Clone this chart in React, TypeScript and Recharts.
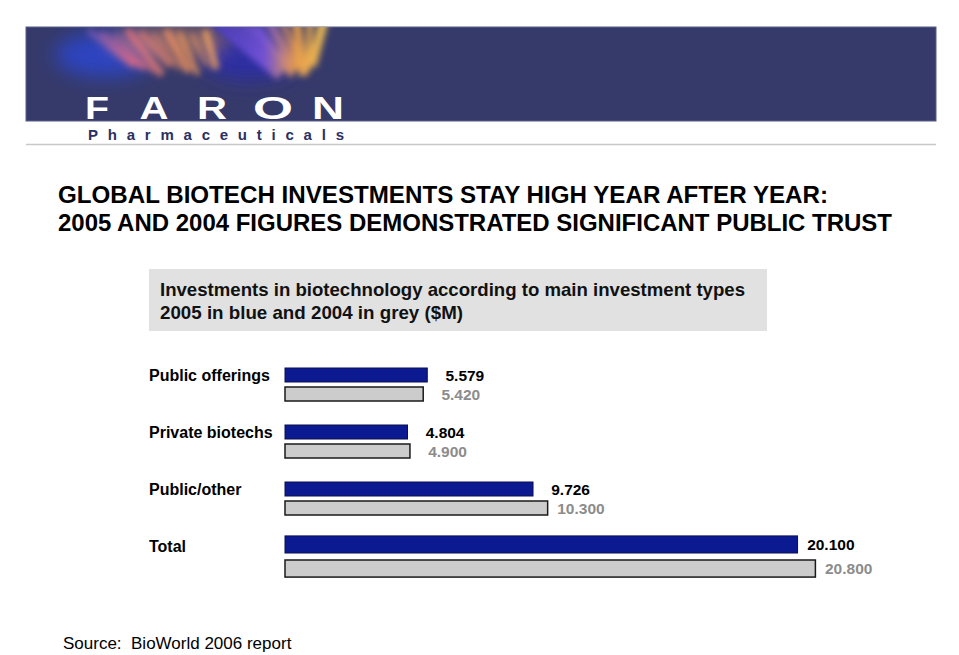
import { BarChart, Bar, XAxis, YAxis, LabelList } from "recharts";

// Investment types, $M (values as printed on the slide)
const categories = ["Public offerings", "Private biotechs", "Public/other", "Total"];
const values2005 = [5.579, 4.804, 9.726, 20.1];
const values2004 = [5.42, 4.9, 10.3, 20.8];

const titleLines = [
  "GLOBAL BIOTECH INVESTMENTS STAY HIGH YEAR AFTER YEAR:",
  "2005 AND 2004 FIGURES DEMONSTRATED SIGNIFICANT PUBLIC TRUST",
];
const boxLines = [
  "Investments in biotechnology according to main investment types",
  "2005 in blue and 2004 in grey ($M)",
];

const FONT = '"Liberation Sans", Arial, Helvetica, sans-serif';
const BLUE = "#0c1a92";
const GREY = "#cccccc";
const GREY_TEXT = "#8c8c8c";

const chartData = categories.map((name, i) => ({
  name,
  y2005: values2005[i],
  y2004: values2004[i],
}));

function CategoryTick(props: any) {
  const { y, payload } = props;
  // label sits level with the 2005 bar, flush left in the chart svg
  return (
    <text
      x={0}
      y={y - 9.5}
      dominantBaseline="central"
      textAnchor="start"
      fontFamily={FONT}
      fontWeight="bold"
      fontSize={16}
      fill="#000"
    >
      {payload.value}
    </text>
  );
}

// the Total row is drawn a little heavier on the slide
function rowBar(fill: string, stroke: string, sw: number, upper: boolean) {
  return (props: any) => {
    const { x, y, width, height, index } = props;
    let yy = y;
    let hh = height;
    if (index === categories.length - 1) {
      hh = height * 1.22;
      yy = upper ? y - (hh - height) : y + 2;
    }
    return <rect x={x} y={yy} width={width} height={hh} fill={fill} stroke={stroke} strokeWidth={sw} />;
  };
}

function valueLabel(color: string, weight: string, upper: boolean) {
  return (props: any) => {
    const { x, y, width, height, value, index } = props;
    let cy = y + height / 2;
    if (index === categories.length - 1) cy += upper ? -1.5 : 3.5;
    return (
      <text
        x={x + width + 57}
        y={cy}
        dominantBaseline="central"
        textAnchor="end"
        fontFamily={FONT}
        fontWeight={weight}
        fontSize={15.5}
        fill={color}
      >
        {value.toFixed(3)}
      </text>
    );
  };
}

// logo letters: centre x of each glyph and its stretched width
const LOGO = [
  { ch: "F", cx: 97, w: 24 },
  { ch: "A", cx: 154, w: 29 },
  { ch: "R", cx: 212, w: 30 },
  { ch: "O", cx: 273, w: 40 },
  { ch: "N", cx: 328, w: 32 },
];

function Header() {
  const leftStreaks = [0, 1, 2, 3, 4, 5, 6, 7, 8, 9];
  const fan = [0, 1, 2, 3, 4, 5, 6, 7, 8];
  return (
    <svg width={959} height={160} style={{ position: "absolute", left: 0, top: 0 }}>
      <defs>
        <clipPath id="band">
          <rect x={26} y={27} width={910} height={94} />
        </clipPath>
        <filter id="soft" x="-30%" y="-60%" width="160%" height="220%">
          <feGaussianBlur stdDeviation="3" />
        </filter>
        <filter id="glow" x="-50%" y="-80%" width="200%" height="260%">
          <feGaussianBlur stdDeviation="10" />
        </filter>
        <linearGradient id="streakA" gradientUnits="userSpaceOnUse" x1="80" y1="75" x2="230" y2="30">
          <stop offset="0" stopColor="#3a55e0" stopOpacity="0.6" />
          <stop offset="0.35" stopColor="#e26a80" />
          <stop offset="0.7" stopColor="#f29a5a" />
          <stop offset="1" stopColor="#f6b060" />
        </linearGradient>
        <linearGradient id="streakB" gradientUnits="userSpaceOnUse" x1="215" y1="27" x2="325" y2="27">
          <stop offset="0" stopColor="#4a3cc8" />
          <stop offset="0.45" stopColor="#7a56d8" />
          <stop offset="0.72" stopColor="#f0a04a" />
          <stop offset="1" stopColor="#fac850" />
        </linearGradient>
      </defs>
      <rect x={26} y={27} width={910} height={94} fill="#363a6a" stroke="#5a5e88" strokeWidth={1} />
      <g clipPath="url(#band)">
        <ellipse cx={105} cy={55} rx={50} ry={22} fill="#2c46d8" opacity={0.8} filter="url(#glow)" />
        <ellipse cx={250} cy={58} rx={50} ry={22} fill="#2a2ab8" opacity={0.75} filter="url(#glow)" />
        <ellipse cx={170} cy={42} rx={60} ry={14} fill="#f09a66" opacity={0.5} filter="url(#glow)" />
        <g filter="url(#soft)">
          {leftStreaks.map((k) => (
            <line
              key={`a${k}`}
              x1={88 + k * 13}
              y1={30 + (k % 3) * 2}
              x2={135 + k * 9}
              y2={66 + (k % 4) * 3}
              stroke="url(#streakA)"
              strokeWidth={7 - (k % 3) * 2}
              opacity={0.85}
            />
          ))}
          {fan.map((k) => (
            <line
              key={`b${k}`}
              x1={212 + k * 14}
              y1={20}
              x2={280 + k * 4}
              y2={76 - (k % 3) * 5}
              stroke="url(#streakB)"
              strokeWidth={9 - (k % 2) * 3}
              opacity={0.9}
            />
          ))}
        </g>
      </g>
      {LOGO.map((l) => (
        <text
          key={l.ch}
          x={l.cx}
          y={119}
          textAnchor="middle"
          textLength={l.w}
          lengthAdjust="spacingAndGlyphs"
          fontFamily={FONT}
          fontWeight="bold"
          fontSize={31}
          fill="#ffffff"
        >
          {l.ch}
        </text>
      ))}
      <text
        x={88}
        y={139.5}
        textLength={256}
        lengthAdjust="spacing"
        fontFamily={FONT}
        fontWeight="bold"
        fontSize={15}
        fill="#2c2f63"
      >
        Pharmaceuticals
      </text>
      <line x1={26} y1={144.5} x2={936} y2={144.5} stroke="#c8c8c8" strokeWidth={1.5} />
    </svg>
  );
}

function TextBlock() {
  return (
    <svg width={959} height={345} style={{ position: "absolute", left: 0, top: 0 }}>
      <text x={58} y={203} textLength={770} lengthAdjust="spacingAndGlyphs" fontFamily={FONT} fontWeight="bold" fontSize={23} fill="#000">
        {titleLines[0]}
      </text>
      <text x={58} y={231} textLength={834} lengthAdjust="spacingAndGlyphs" fontFamily={FONT} fontWeight="bold" fontSize={23} fill="#000">
        {titleLines[1]}
      </text>
      <rect x={149} y={269} width={618} height={62} fill="#e1e1e1" />
      <text x={160} y={296} textLength={585} lengthAdjust="spacingAndGlyphs" fontFamily={FONT} fontWeight="bold" fontSize={18.5} fill="#111">
        {boxLines[0]}
      </text>
      <text x={160} y={318.5} textLength={303} lengthAdjust="spacingAndGlyphs" fontFamily={FONT} fontWeight="bold" fontSize={18.5} fill="#111">
        {boxLines[1]}
      </text>
    </svg>
  );
}

export default function App() {
  return (
    <div
      style={{
        position: "absolute",
        left: 0,
        top: 0,
        width: 959,
        height: 655,
        background: "#ffffff",
        fontFamily: FONT,
        overflow: "hidden",
      }}
    >
      <Header />
      <TextBlock />

      <div style={{ position: "absolute", left: 149, top: 346 }}>
        <BarChart
          width={760}
          height={248}
          data={chartData}
          layout="vertical"
          margin={{ top: 10, right: 12, bottom: 10, left: 0 }}
          barSize={14}
          barGap={5}
          barCategoryGap={12}
        >
          <XAxis type="number" domain={[0, 24]} hide />
          <YAxis
            type="category"
            dataKey="name"
            width={136}
            axisLine={false}
            tickLine={false}
            tick={<CategoryTick />}
          />
          <Bar dataKey="y2005" shape={rowBar(BLUE, "#0a0f50", 1, true)} isAnimationActive={false}>
            <LabelList dataKey="y2005" content={valueLabel("#000", "bold", true)} />
          </Bar>
          <Bar dataKey="y2004" shape={rowBar(GREY, "#1a1a1a", 1.5, false)} isAnimationActive={false}>
            <LabelList dataKey="y2004" content={valueLabel(GREY_TEXT, "bold", false)} />
          </Bar>
        </BarChart>
      </div>

      <div
        style={{
          position: "absolute",
          left: 63,
          top: 634,
          fontSize: 17,
          lineHeight: "20px",
          color: "#000",
          whiteSpace: "pre",
        }}
      >
        {"Source:  BioWorld 2006 report"}
      </div>
    </div>
  );
}
